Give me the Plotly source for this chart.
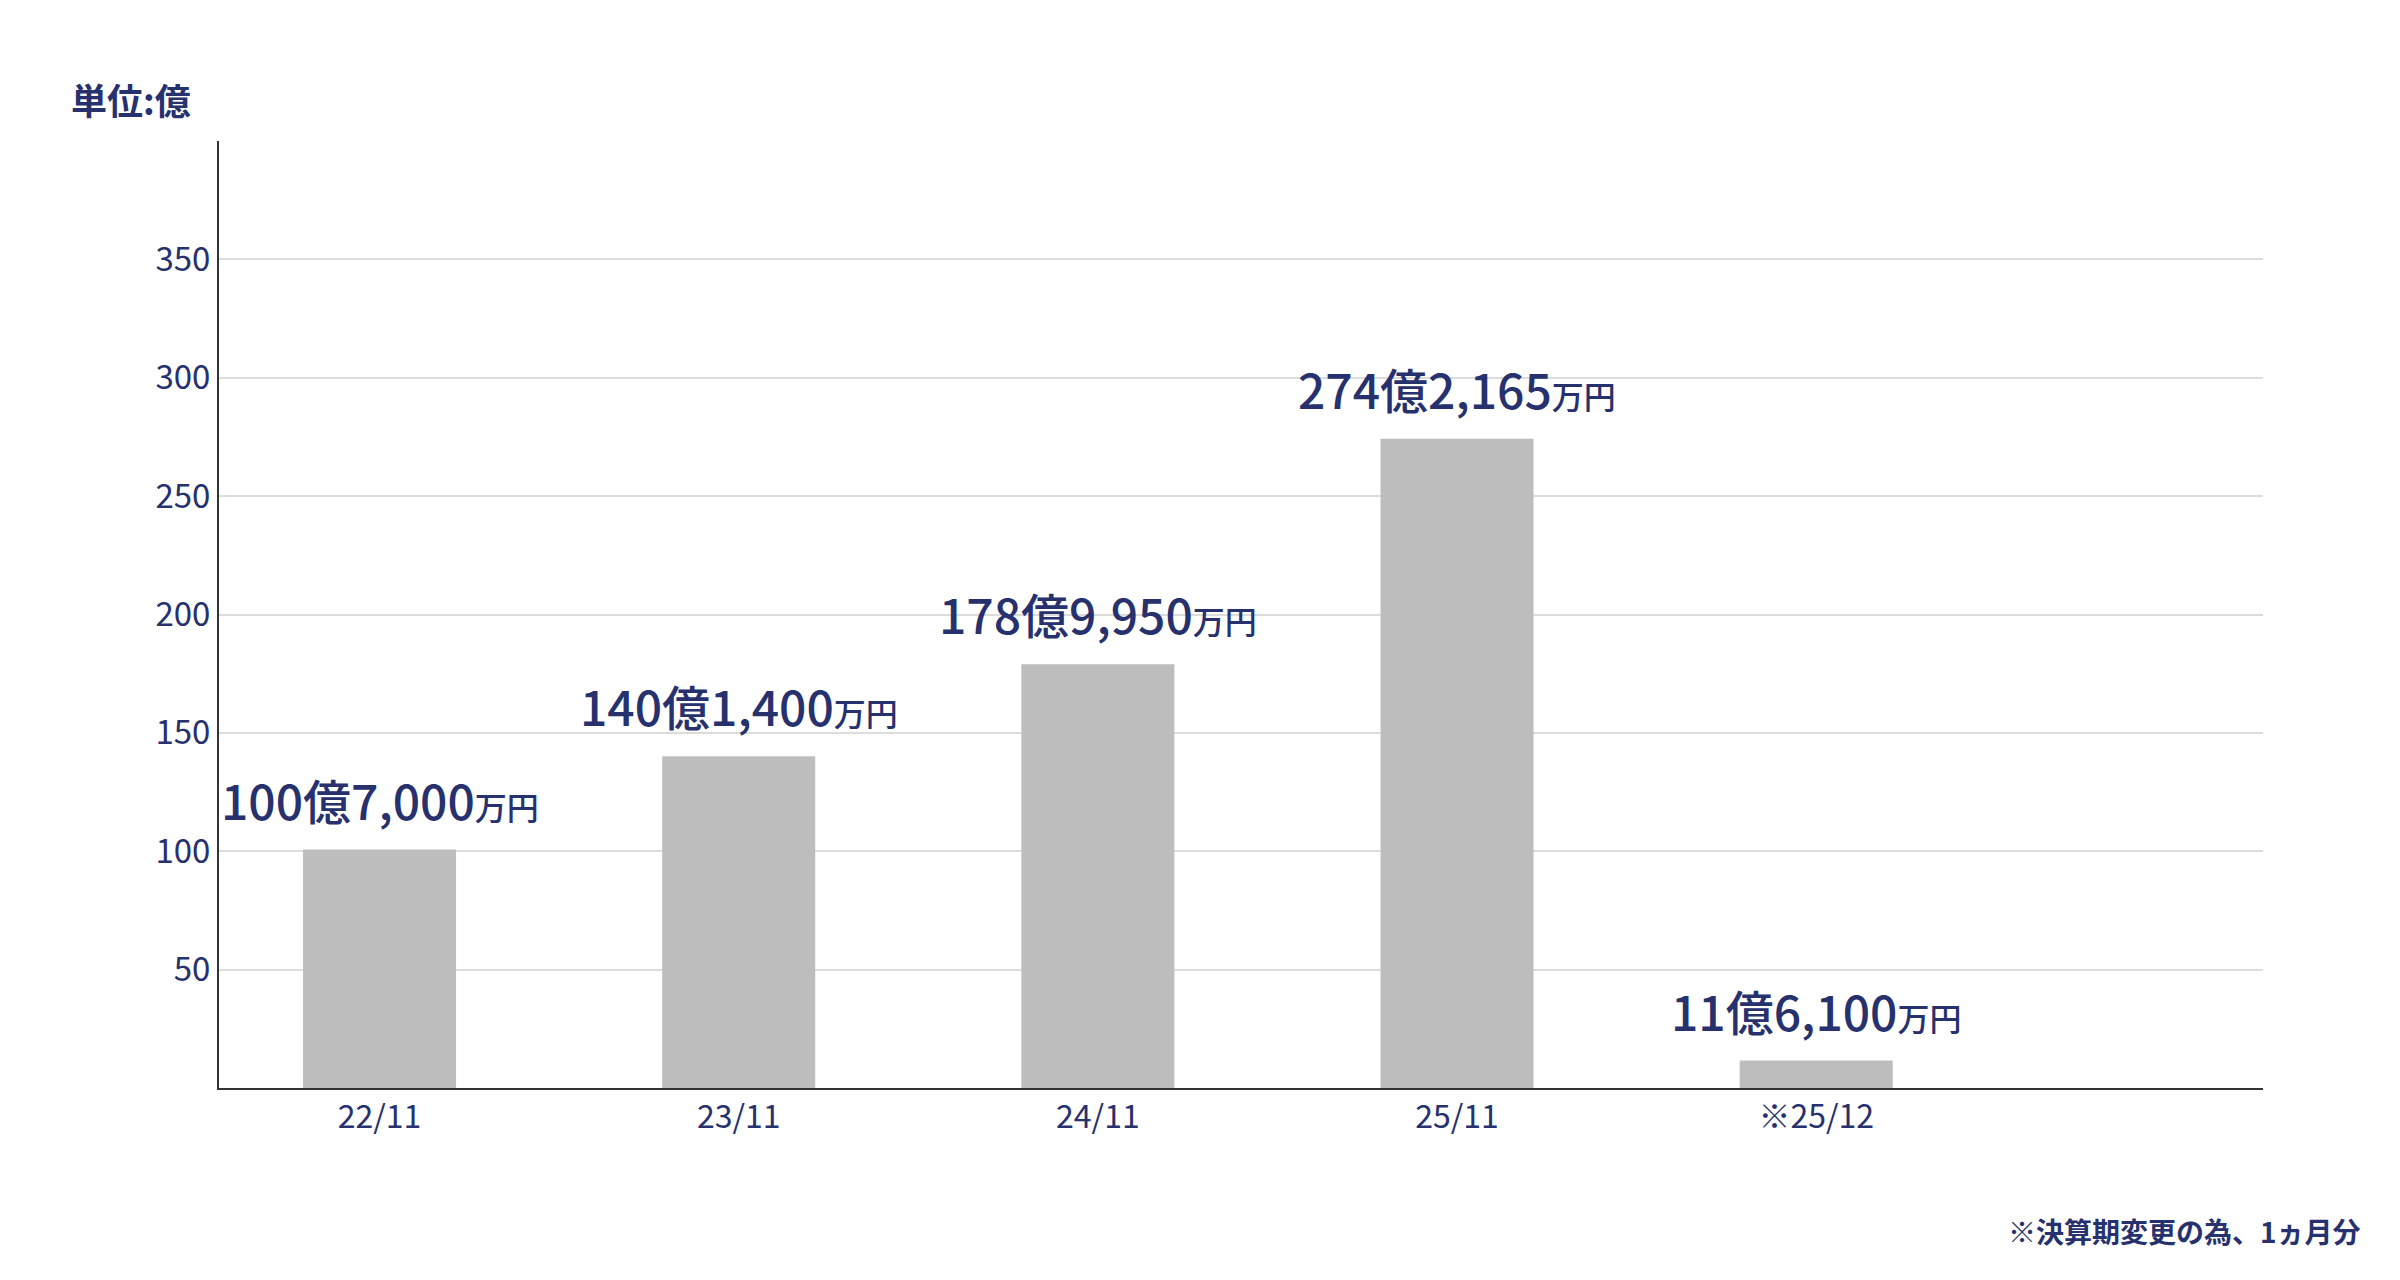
import plotly.graph_objects as go

categories = ["22/11", "23/11", "24/11", "25/11", "※25/12"]
values = [100.7, 140.14, 178.995, 274.2165, 11.61]
labels_main = ["100億7,000", "140億1,400", "178億9,950", "274億2,165", "11億6,100"]
y_ticks = [50, 100, 150, 200, 250, 300, 350, 400]
y_ticktext = ["50", "100", "150", "200", "250", "300", "350", ""]

navy = "#26316e"
font = "Noto Sans CJK JP"
texts = [f"{m}<span style='font-size:32px'>万円</span>" for m in labels_main]

fig = go.Figure(go.Bar(
    x=list(range(len(categories))), y=values, width=0.426,
    marker=dict(color="#bdbdbd", line=dict(width=0)),
))
annotations = [
    dict(x=i, y=v, xref="x", yref="y", text=t, showarrow=False, yanchor="bottom",
         yshift=14, font=dict(family=font, size=48, color=navy, weight=500))
    for i, (v, t) in enumerate(zip(values, texts))
]
annotations += [
    dict(text="<b>単位:億</b>", x=0, y=1, xref="paper", yref="paper",
         xanchor="left", yanchor="middle", showarrow=False, font=dict(size=36, color=navy),
         xshift=-150, yshift=42),
    dict(text="<b>※決算期変更の為、1ヵ月分</b>", x=1, y=0, xref="paper", yref="paper",
         xanchor="right", yanchor="middle", showarrow=False, font=dict(size=28, color=navy),
         xshift=100, yshift=-143),
]
fig.update_layout(
    width=2400, height=1280, paper_bgcolor="white", plot_bgcolor="white",
    margin=dict(l=211, r=145, t=133, b=200), showlegend=False,
    font=dict(family=font, color=navy),
    xaxis=dict(range=[-0.447, 5.244], tickvals=list(range(len(categories))),
               ticktext=categories, showgrid=False, showline=True,
               linecolor="#333", linewidth=2, ticks="", tickfont=dict(size=32, color=navy)),
    yaxis=dict(range=[0, 400], tickvals=y_ticks, ticktext=y_ticktext,
               showgrid=True, gridcolor="#dcdcdc", gridwidth=2, showline=True,
               linecolor="#333", linewidth=2, ticks="", ticklen=0,
               tickfont=dict(size=33, color=navy), zeroline=False),
    annotations=annotations,
)
fig.write_html("out.html")
